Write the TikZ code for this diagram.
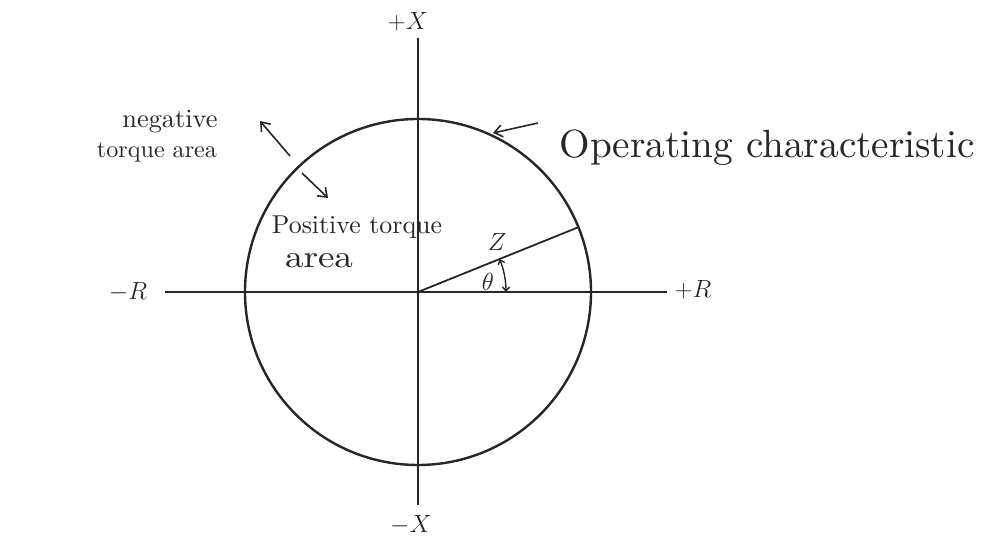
\documentclass[tikz,border=0pt]{standalone}
\usepackage{graphicx}
\usetikzlibrary{arrows.meta}
\newcommand\fitw[2]{\resizebox{#1}{!}{#2}}
\begin{document}
\begin{tikzpicture}[x=1pt,y=1pt,
  axisline/.style={line width=1.8pt,black!85},
  curve/.style={line width=2.4pt,black!85},
  pointer/.style={line width=1.6pt,black!85,-{Straight Barb[length=8pt,width=12pt,line width=1.6pt]}},
  lbl/.style={inner sep=0pt,text=black!85},
]
\useasboundingbox (0,0) rectangle (997,538);
\coordinate (O) at (418,246);
\coordinate (ytop) at (418,500);
\coordinate (ybot) at (418,33);
\coordinate (xl) at (165,246);
\coordinate (xr) at (667,246);
\coordinate (zend) at (578.4,310.8);
% axes
\draw[axisline] (ybot) -- (ytop);
\draw[axisline] (xl) -- (xr);
% circle
\draw[curve] (O) circle[radius=173pt];
% Z line
\draw[axisline] (O) -- (zend);
% theta arc
\draw[line width=1.4pt,black!85,{Straight Barb[length=4pt,width=7pt]}-{Straight Barb[length=4pt,width=7pt]}]
  (506,246) arc[start angle=0,end angle=22,radius=88pt];
% axis labels
\node[lbl] (plusX) at (408,516) {\fontsize{30}{34}\selectfont $+X$};
\node[lbl] (minusX) at (411,13) {\fontsize{30}{34}\selectfont $-X$};
\node[lbl] (minusR) at (128,246) {\fontsize{34}{38}\selectfont $-R$};
\node[lbl] (plusR) at (693,248) {\fontsize{32}{36}\selectfont $+R$};
\node[lbl] (zlab) at (497,296) {\fontsize{30}{34}\selectfont $Z$};
\node[lbl] (thlab) at (488,256) {\fontsize{26}{30}\selectfont $\theta$};
% texts
\node[lbl] (neg1) at (170,416) {\fitw{95pt}{negative}};
\node[lbl] (neg2) at (157,386) {\fitw{120pt}{torque area}};
\node[lbl,anchor=base] (pos1) at (357,304) {\fitw{170pt}{Positive torque}};
\node[lbl,anchor=base] (pos2) at (319,270) {\resizebox{68pt}{14pt}{area}};
\node[lbl] (op) at (767,390) {\fitw{415pt}{Operating characteristic}};
% pointers
\coordinate (opA) at (538,415);
\coordinate (opB) at (493,405);
\coordinate (negA) at (290,382);
\coordinate (negB) at (260,417);
\coordinate (posA) at (302,365);
\coordinate (posB) at (328,340);
\draw[pointer] (opA) -- (opB);
\draw[pointer] (negA) -- (negB);
\draw[pointer] (posA) -- (posB);
\end{tikzpicture}
\end{document}
